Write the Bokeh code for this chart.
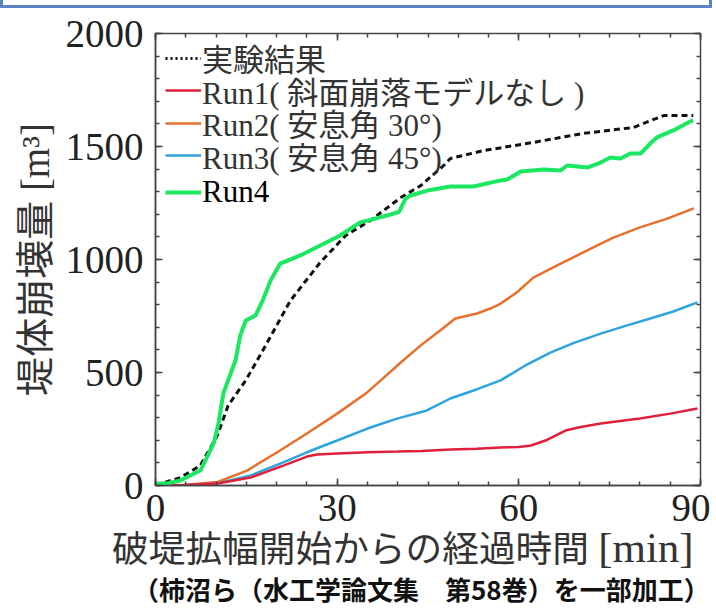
from bokeh.plotting import figure
from bokeh.models import (Legend, LegendItem, LinearAxis, SingleIntervalTicker,
                          Range1d, Div)
from bokeh.layouts import column
from bokeh.embed import file_html
from bokeh.resources import INLINE

# ---- data ----
exp_t = [0, 2.5, 4.1, 7.4, 10.2, 12, 14.9, 18.2, 22.3, 27.2, 31.4, 35.5, 40.5,
         43.8, 47.6, 48.7, 54.2, 62.4, 70.7, 78.9, 83.9, 88.8]
exp_v = [0, 22, 35, 88, 221, 354, 465, 620, 819, 987, 1106, 1173, 1274,
         1327, 1416, 1447, 1482, 1518, 1558, 1584, 1637, 1637]

run1_t = [0, 5, 10.2, 15.7, 21.1, 25, 26.7, 30, 35, 40, 44, 48.7, 53, 57, 60,
          62, 64.4, 67.7, 70, 73.5, 80, 85, 89.5]
run1_v = [0, 2, 9, 35, 88, 128, 137, 142, 147, 150, 153, 159, 163, 168, 170,
          177, 199, 243, 258, 274, 296, 318, 341]

run2_t = [0, 5, 10.2, 15.1, 20.1, 25, 30, 35, 37.2, 40.5, 43.8, 47, 49.5, 53.1,
          55.3, 57, 59.7, 62.4, 66.9, 71.3, 75.6, 80, 84.5, 88.9]
run2_v = [0, 3, 15, 66, 147, 230, 318, 413, 465, 544, 620, 686, 739, 761,
          783, 805, 855, 920, 982, 1040, 1097, 1142, 1181, 1226]

run3_t = [0, 5, 10.2, 15.7, 21.1, 25, 30, 35, 39.9, 44.8, 48.7, 53, 57, 61,
          65.2, 69, 73.5, 77.5, 81.7, 85.5, 89.5]
run3_v = [0, 2, 9, 44, 102, 147, 199, 252, 296, 332, 385, 425, 465, 530,
          588, 630, 672, 705, 739, 770, 810]

run4_t = [0, 2, 4.1, 7.4, 8.8, 9.6, 10.4, 11.2, 12, 13.2, 14, 14.9, 16.5, 17.7,
          19, 20.6, 22.6, 23.9, 27.2, 30.5, 33.8, 36.3, 38.8, 40.2, 41.3, 42.1,
          44.9, 48.7, 52.5, 57, 58.1, 60.3, 64.1, 66.9, 68, 71.3, 73.5, 75.1,
          76.8, 78.4, 80.1, 81.7, 82.8, 85.5, 88.3, 88.8]
run4_v = [8, 10, 22, 66, 142, 186, 274, 407, 465, 553, 664, 730, 752, 819,
          907, 982, 1004, 1018, 1062, 1106, 1164, 1181, 1199, 1210, 1270, 1283,
          1305, 1323, 1323, 1350, 1354, 1389, 1398, 1394, 1416, 1407, 1429, 1451,
          1447, 1469, 1469, 1513, 1540, 1571, 1611, 1615]

legend_labels = ["実験結果", "Run1( 斜面崩落モデルなし )", "Run2( 安息角 30°)",
                 "Run3( 安息角 45°)", "Run4"]
x_label_jp = "破堤拡幅開始からの経過時間"
x_label_unit = "[min]"
y_label = "堤体崩壊量 [m³]"
footer = "（柿沼ら（水工学論文集　第58巻）を一部加工）"

SERIF = "Liberation Serif"
MIX = "'Liberation Serif', 'Noto Sans CJK JP'"
SANS_JP = "Noto Sans CJK JP"

C_RED = "#E0203A"
C_ORANGE = "#E6702C"
C_BLUE = "#2FA3DD"
C_GREEN = "#1BE860"
C_BLACK = "#111111"
C_AXIS = "#444444"

p = figure(frame_width=545, frame_height=452, title=None,
           min_border_left=155, min_border_right=10,
           min_border_top=25, min_border_bottom=60,
           x_range=Range1d(0, 90), y_range=Range1d(0, 2000),
           output_backend="svg", toolbar_location=None,
           background_fill_color="white", border_fill_color="white")
p.xgrid.visible = False
p.ygrid.visible = False
p.outline_line_color = C_AXIS
p.outline_line_width = 1.5

xt = SingleIntervalTicker(interval=30, num_minor_ticks=6)
yt = SingleIntervalTicker(interval=500, num_minor_ticks=5)
p.xaxis.ticker = xt
p.yaxis.ticker = yt

for ax in (p.xaxis[0], p.yaxis[0]):
    ax.axis_line_color = C_AXIS
    ax.axis_line_width = 1.5
    ax.major_tick_line_color = C_AXIS
    ax.minor_tick_line_color = C_AXIS
    ax.major_tick_line_width = 1.5
    ax.minor_tick_line_width = 1.5
    ax.major_tick_in = 7
    ax.major_tick_out = 0
    ax.minor_tick_in = 4
    ax.minor_tick_out = 0
    ax.major_label_text_font = SERIF
    ax.major_label_text_font_size = "39px"
    ax.major_label_text_color = "#222222"
    ax.axis_label_text_font = MIX
    ax.axis_label_text_font_size = "39px"
    ax.axis_label_text_font_style = "normal"
    ax.axis_label_text_color = "#333333"

p.yaxis.axis_label = y_label
p.xaxis.major_label_standoff = 9
p.yaxis.major_label_standoff = 12
p.yaxis.axis_label_standoff = 6

# mirrored axes (ticks only) on top and right
for loc, tk in (("above", xt), ("right", yt)):
    a = LinearAxis(ticker=tk)
    a.axis_line_color = None
    a.major_tick_line_color = C_AXIS
    a.minor_tick_line_color = C_AXIS
    a.major_tick_line_width = 1.5
    a.minor_tick_line_width = 1.5
    a.major_tick_in = 7
    a.major_tick_out = 0
    a.minor_tick_in = 4
    a.minor_tick_out = 0
    a.major_label_text_font_size = "0px"
    a.major_label_text_alpha = 0
    a.major_label_standoff = 0
    p.add_layout(a, loc)

r2 = p.line(run2_t, run2_v, line_color=C_ORANGE, line_width=2.5)
r3 = p.line(run3_t, run3_v, line_color=C_BLUE, line_width=2.5)
r1 = p.line(run1_t, run1_v, line_color=C_RED, line_width=2.5)
r0 = p.line(exp_t, exp_v, line_color=C_BLACK, line_width=3, line_dash="6 4")
r4 = p.line(run4_t, run4_v, line_color=C_GREEN, line_width=4)
# legend key for the experiment: dotted; a one-point line draws nothing in the plot
r0k = p.line(exp_t[:1], exp_v[:1], line_color=C_BLACK, line_width=3,
             line_dash="2 3")

# one single-entry legend per row, so the rows sit at the reference's pitch
row_y = [405, 372.5, 340, 307.5, 275]
keys = [r0k, r1, r2, r3, r4]
for i, (lab, rr, yy) in enumerate(zip(legend_labels, keys, row_y)):
    lg = Legend(items=[LegendItem(label=lab, renderers=[rr])],
                location=(10, yy), orientation="vertical",
                background_fill_alpha=0, border_line_alpha=0,
                label_text_font=MIX, label_text_font_size="31px",
                label_text_color="#000000" if i == 4 else "#333333",
                glyph_width=36, glyph_height=30, label_height=30,
                label_standoff=1, spacing=0, padding=0, margin=0)
    p.add_layout(lg, "center")

top_box = Div(width=712, height=8, margin=(0, 0, 0, 0),
              styles={"border-left": "3px solid #5B84C4",
                      "border-right": "3px solid #5B84C4",
                      "border-bottom": "3px solid #5B84C4",
                      "box-sizing": "border-box"})

bottom_html = (
    '<div style="white-space:nowrap;margin:0;padding:0;">'
    '<div style="font-family:\'Liberation Serif\',\'Noto Sans CJK JP\';'
    'font-size:36.7px;line-height:38px;height:38px;margin-top:-16px;'
    'padding-left:112px;color:#333333;">' + x_label_jp +
    ' <span style="font-size:43px;">' + x_label_unit + '</span></div>'
    '<div style="font-family:\'Noto Sans CJK JP\';font-size:26px;'
    'font-weight:bold;line-height:26px;height:26px;margin-top:9px;'
    'padding-left:133px;color:#111111;">' + footer + '</div></div>'
)
bottom_box = Div(text=bottom_html, width=710, height=62, margin=(0, 0, 0, 0))

layout = column(top_box, p, bottom_box, spacing=0)
open("out.html", "w").write(file_html(layout, INLINE))
